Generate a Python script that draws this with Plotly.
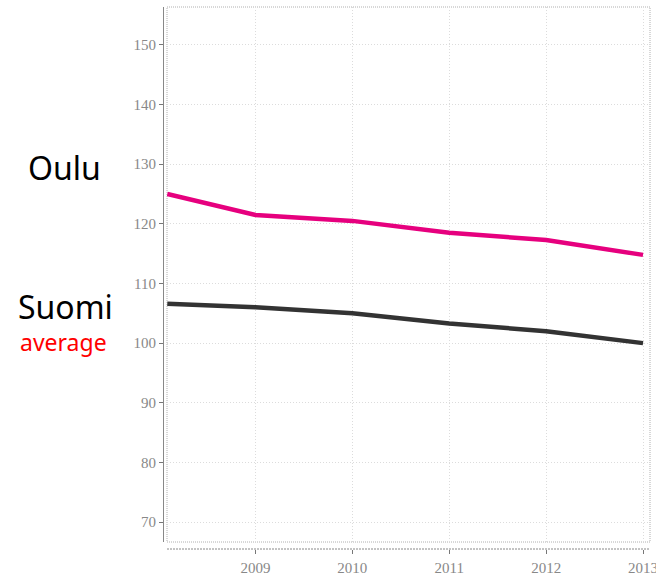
import plotly.graph_objects as go

# Data
years = [2008.09, 2009, 2010, 2011, 2012, 2013]
oulu = [125.0, 121.5, 120.5, 118.5, 117.3, 114.8]
suomi = [106.6, 106.0, 105.0, 103.3, 102.0, 100.0]
x_ticks = [2009, 2010, 2011, 2012, 2013]
y_ticks = [70, 80, 90, 100, 110, 120, 130, 140, 150]

W, H = 656, 576
ML, MR, MT, MB = 163, 6, 7, 27
PW = W - ML - MR
PH = H - MT - MB


def px(x):
    return (x - ML) / PW


def py(y):
    return (H - MB - y) / PH


fig = go.Figure()
fig.add_trace(go.Scatter(x=years, y=oulu, mode="lines",
                         line=dict(color="#e6007e", width=4.5), showlegend=False))
fig.add_trace(go.Scatter(x=years, y=suomi, mode="lines",
                         line=dict(color="#333333", width=4.5), showlegend=False))

tickfont = dict(family="Liberation Serif", size=15, color="#888888")

fig.update_layout(
    width=W, height=H,
    margin=dict(l=ML, r=MR, t=MT, b=MB, pad=0, autoexpand=False),
    paper_bgcolor="white", plot_bgcolor="white",
    xaxis=dict(
        domain=[4 / PW, 1], range=[2008.087, 2013.072],
        anchor="free", position=0, automargin=False,
        tickvals=x_ticks, ticktext=[str(v) for v in x_ticks],
        ticks="outside", ticklen=4, tickcolor="#777777",
        showline=False, showgrid=True, gridcolor="#dcdcdc", griddash="1px,2px",
        zeroline=False, tickfont=tickfont, ticklabelstandoff=1,
        ticklabeloverflow="allow",
    ),
    yaxis=dict(
        domain=[7 / PH, 1], range=[66.65, 156.37],
        anchor="free", position=0, automargin=False,
        tickvals=y_ticks, ticks="outside", ticklen=4, tickcolor="#777777",
        showline=True, linecolor="#888888", linewidth=1,
        showgrid=True, gridcolor="#dcdcdc", griddash="1px,2px",
        zeroline=False, tickfont=tickfont,
    ),
    shapes=[
        dict(type="rect", xref="x domain", yref="y domain", x0=0, x1=1, y0=0, y1=1,
             line=dict(color="#b0b0b0", width=1, dash="1px,1px"), layer="below"),
        dict(type="line", xref="paper", yref="paper", x0=4 / PW, x1=1, y0=0, y1=0,
             line=dict(color="#888888", width=1, dash="2px,1px")),
    ],
    annotations=[
        dict(text="Oulu", xref="paper", yref="paper", x=px(64), y=py(168),
             showarrow=False, font=dict(family="Noto Sans", size=32, color="black"),
             xanchor="center", yanchor="middle"),
        dict(text="Suomi", xref="paper", yref="paper", x=px(65), y=py(306),
             showarrow=False, font=dict(family="Noto Sans", size=32, color="black"),
             xanchor="center", yanchor="middle"),
        dict(text="average", xref="paper", yref="paper", x=px(63), y=py(342),
             showarrow=False, font=dict(family="Noto Sans", size=23, color="#ff0000"),
             xanchor="center", yanchor="middle"),
    ],
)

fig.write_html("out.html", config={"displayModeBar": False},
               post_script="document.body.style.margin='0';")
